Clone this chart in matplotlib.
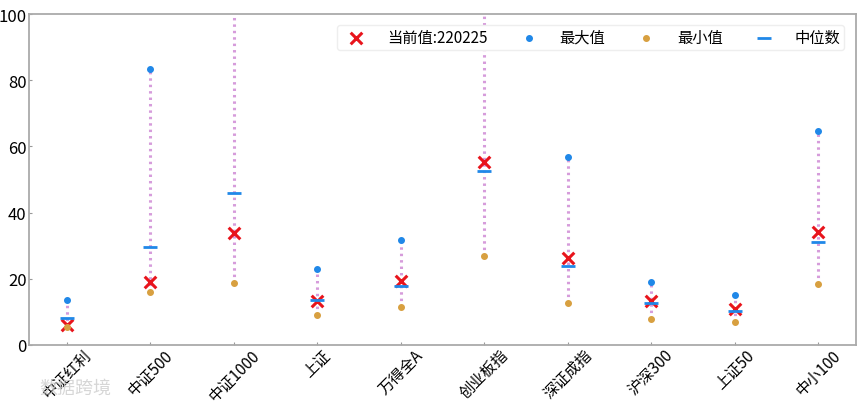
import matplotlib
matplotlib.use("Agg")
import matplotlib.pyplot as plt

plt.rcParams['font.family'] = ['Noto Sans CJK SC', 'DejaVu Sans']
plt.rcParams['axes.unicode_minus'] = False

indices = ['中证红利', '中证500', '中证1000', '上证', '万得全A',
           '创业板指', '深证成指', '沪深300', '上证50', '中小100']
current_vals = [6.0, 19.0, 33.7, 13.2, 19.2, 55.2, 26.4, 13.3, 10.9, 34.1]
max_vals = [13.6, 83.3, 130.0, 23.0, 31.6, 120.0, 56.7, 19.0, 15.1, 64.6]
min_vals = [5.4, 16.0, 18.8, 9.0, 11.5, 27.0, 12.8, 7.9, 6.9, 18.5]
median_vals = [8.2, 29.6, 45.9, 13.6, 17.8, 52.6, 23.9, 12.7, 10.3, 31.0]
date_label = '220225'

fig = plt.figure(figsize=(8.67, 4.06), dpi=100)
ax = fig.add_axes([0.034, 0.148, 0.953, 0.815])

x = list(range(len(indices)))

# dotted range lines from min to max
for i in x:
    ax.plot([i, i], [min_vals[i], max_vals[i]], linestyle=(0, (0.8, 1.3)),
            color='#d69cdb', linewidth=2.2, zorder=1)

ax.scatter(x, current_vals, marker='x', s=70, color='#e8141c', linewidths=2.2,
           label=f'当前值:{date_label}', zorder=3)
ax.scatter(x, max_vals, marker='o', s=16, color='#2088e8', label='最大值', zorder=3)
ax.scatter(x, min_vals, marker='o', s=16, color='#d8a040', label='最小值', zorder=4)
ax.scatter(x, median_vals, marker='_', s=110, color='#2088e8', linewidths=2,
           label='中位数', zorder=4)

ax.set_ylim(0, 100)
ax.set_xlim(-0.45, len(indices) - 0.55)
ax.set_xticks(x)
ax.set_xticklabels(indices, rotation=45, fontsize=11)
ax.set_yticks([0, 20, 40, 60, 80, 100])
ax.tick_params(axis='y', labelsize=12, direction='in', length=2, color='#999999', pad=2)
ax.tick_params(axis='x', direction='in', length=2, color='#999999', pad=1)
for sp in ax.spines.values():
    sp.set_color('#aaaaaa')
    sp.set_linewidth(1.3)

leg = ax.legend(loc='upper right', ncol=4, fontsize=11, columnspacing=1.7,
                handletextpad=1.0, borderpad=0.25, framealpha=1,
                bbox_to_anchor=(0.995, 0.99))
leg.get_frame().set_edgecolor('#eeeeee')

# watermark
fig.text(0.045, 0.03, '数据跨境', fontsize=13, color='#cccccc', alpha=0.8)

fig.savefig('out.png', dpi=100)
